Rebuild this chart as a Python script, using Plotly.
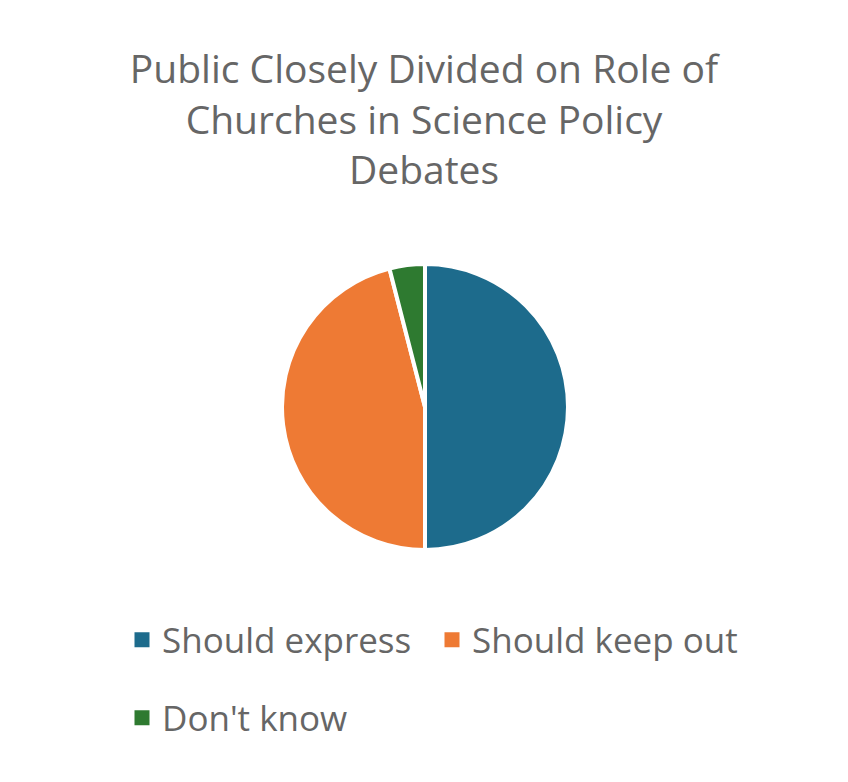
import plotly.graph_objects as go

labels = ["Should express", "Should keep out", "Don't know"]
values = [50, 46, 4]
colors = ["#1d6b8c", "#ee7a34", "#2e7a30"]
legend_rows = ["legend", "legend", "legend2"]

title_text = "Public Closely Divided on Role of<br>Churches in Science Policy<br>Debates"

W, H = 848, 782
cx, cy, r = 417, 399, 143

fig = go.Figure()
fig.add_trace(go.Pie(
    labels=labels,
    values=values,
    marker=dict(colors=colors, line=dict(color="white", width=4)),
    textinfo="none",
    hoverinfo="label+percent",
    sort=False,
    direction="clockwise",
    rotation=0,
    showlegend=False,
    domain=dict(x=[(cx - r) / W, (cx + r) / W], y=[(H - cy - r) / H, (H - cy + r) / H]),
))

# legend entries (one per slice)
for lab, col, lg in zip(labels, colors, legend_rows):
    fig.add_trace(go.Scatter(
        x=[None], y=[None], mode="markers", name=lab,
        marker=dict(symbol="square", size=15, color=col),
        legend=lg, showlegend=True, hoverinfo="skip",
    ))

legend_font = dict(size=35, color="#666666")
fig.update_layout(
    width=W,
    height=H,
    paper_bgcolor="white",
    plot_bgcolor="white",
    font=dict(family="Open Sans, Noto Sans, sans-serif", color="#666666"),
    title=dict(
        text=title_text,
        x=416 / W,
        xanchor="center",
        xref="container",
        yref="container",
        y=1 - 75 / H,
        yanchor="middle",
        font=dict(size=39, color="#666666"),
    ),
    margin=dict(t=0, b=0, l=0, r=0),
    xaxis=dict(visible=False),
    yaxis=dict(visible=False),
    legend=dict(
        orientation="h",
        x=114 / W,
        xanchor="left",
        y=1 - 632 / H,
        yanchor="middle",
        entrywidth=265,
        entrywidthmode="pixels",
        font=legend_font,
        bgcolor="rgba(0,0,0,0)",
    ),
    legend2=dict(
        orientation="h",
        x=114 / W,
        xanchor="left",
        y=1 - 710 / H,
        yanchor="middle",
        font=legend_font,
        bgcolor="rgba(0,0,0,0)",
    ),
)

fig.write_html("out.html")
